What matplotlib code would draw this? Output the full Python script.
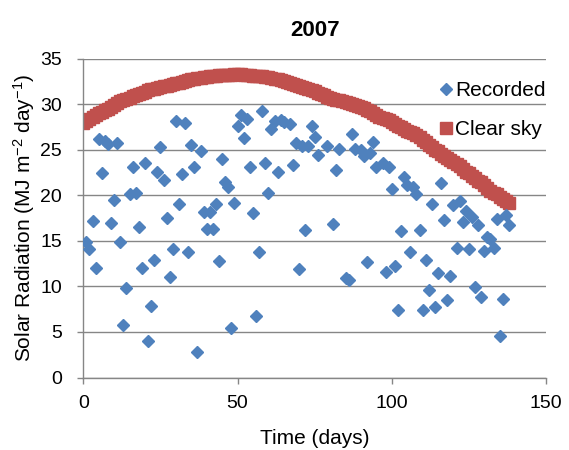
import matplotlib
matplotlib.use('Agg')
import matplotlib.pyplot as plt

plt.rcParams['font.family'] = ['Liberation Sans', 'DejaVu Sans']
plt.rcParams['mathtext.fontset'] = 'custom'
plt.rcParams['mathtext.rm'] = 'Liberation Sans'
plt.rcParams['mathtext.it'] = 'Liberation Sans'

# Recorded daily radiation (day, MJ m-2 day-1)
rec_days = [1, 2, 3, 4, 5, 6, 7, 8, 9, 10, 11, 12, 13, 14, 15, 16, 17, 18, 19, 20,
            21, 22, 23, 24, 25, 26, 27, 28, 29, 30, 31, 32, 33, 34, 35, 36, 37, 38, 39, 40,
            41, 42, 43, 44, 45, 46, 47, 48, 49, 50, 51, 52, 53, 54, 55, 56, 57, 58, 59, 60,
            61, 62, 63, 64, 65, 67, 68, 69, 70, 71, 72, 73, 74, 75, 76, 79, 81, 82, 83, 85,
            86, 87, 88, 90, 91, 92, 93, 94, 95, 97, 98, 99, 100, 101, 102, 103, 104, 105, 106, 107,
            108, 109, 110, 111, 112, 113, 114, 115, 116, 117, 118, 119, 120, 121, 122, 123, 124, 125, 126, 127,
            128, 129, 130, 131, 132, 133, 134, 135, 136, 137, 138]
rec_vals = [14.85, 14.05, 17.15, 12.05, 26.15, 22.45, 25.95, 25.65, 16.9, 19.45,
            25.75, 14.85, 5.75, 9.85, 20.15, 23.05, 20.25, 16.55, 12.05, 23.55,
            4.05, 7.85, 12.95, 22.55, 25.25, 21.65, 17.55, 11.05, 14.05, 28.15,
            19.05, 22.35, 27.95, 13.75, 25.55, 23.15, 2.75, 24.85, 18.15, 16.35,
            18.15, 16.35, 19.05, 12.75, 23.95, 21.45, 20.95, 5.45, 19.1, 27.65,
            28.85, 26.25, 28.35, 23.05, 18.05, 6.75, 13.75, 29.25, 23.55, 20.25,
            27.25, 28.15, 22.55, 28.25, 28.05, 27.85, 23.35, 25.75, 11.95, 25.35,
            16.15, 25.45, 27.55, 26.35, 24.45, 25.35, 16.85, 22.75, 25.05, 10.95,
            10.75, 26.75, 25.05, 24.95, 24.25, 12.65, 24.65, 25.85, 23.15, 23.55,
            11.55, 23.15, 20.65, 12.25, 7.45, 16.05, 21.95, 21.15, 13.75, 20.95,
            20.15, 16.15, 7.45, 12.85, 9.55, 19.05, 7.75, 11.45, 21.35, 17.3,
            8.55, 11.15, 18.95, 14.25, 19.4, 17.05, 18.3, 14.05, 17.65, 9.95,
            16.75, 8.85, 13.85, 15.45, 15.15, 14.25, 17.35, 4.55, 8.65, 17.85, 16.75]

# Clear sky radiation, one value per day from day 0
clear_vals = [27.9, 28.1, 28.4, 28.6, 28.8, 29.0, 29.1, 29.3, 29.5, 29.7,
              29.9, 30.1, 30.3, 30.4, 30.6, 30.7, 30.9, 31.0, 31.1, 31.2,
              31.3, 31.5, 31.6, 31.7, 31.8, 31.9, 32.0, 32.0, 32.1, 32.2,
              32.3, 32.3, 32.4, 32.5, 32.6, 32.7, 32.8, 32.9, 32.9, 33.0,
              33.0, 33.1, 33.1, 33.1, 33.2, 33.2, 33.2, 33.2, 33.2, 33.3,
              33.3, 33.3, 33.2, 33.2, 33.2, 33.1, 33.1, 33.1, 33.1, 33.0,
              33.0, 32.9, 32.8, 32.7, 32.6, 32.5, 32.4, 32.3, 32.2, 32.1,
              32.0, 31.9, 31.8, 31.6, 31.5, 31.4, 31.2, 31.1, 31.0, 30.8,
              30.7, 30.6, 30.5, 30.4, 30.3, 30.2, 30.1, 30.0, 29.9, 29.8,
              29.7, 29.6, 29.4, 29.2, 29.0, 28.8, 28.6, 28.5, 28.4, 28.2,
              28.0, 27.8, 27.6, 27.5, 27.3, 27.1, 26.9, 26.8, 26.6, 26.4,
              26.1, 25.8, 25.5, 25.3, 25.0, 24.8, 24.5, 24.3, 24.1, 23.9,
              23.6, 23.4, 23.2, 22.9, 22.6, 22.4, 22.1, 21.9, 21.6, 21.4,
              21.1, 20.8, 20.5, 20.3, 20.1, 19.8, 19.6, 19.4, 19.2]
clear_days = list(range(len(clear_vals)))

fig = plt.figure(figsize=(5.69, 4.5), dpi=100)
ax = fig.add_axes([0.1464, 0.161, 0.8132, 0.709])

grey = '#868686'
ax.plot(rec_days, rec_vals, linestyle='none', marker='D', ms=6.4,
        color='#4F81BD', label='Recorded', zorder=3)
ax.plot(clear_days, clear_vals, linestyle='none', marker='s', ms=9,
        color='#C0504D', label='Clear sky', zorder=2)

ax.set_xlim(0, 150)
ax.set_ylim(0, 35)
ax.set_xticks([0, 50, 100, 150])
ax.set_yticks(range(0, 36, 5))
ax.grid(axis='y', color=grey, linewidth=1)
ax.set_axisbelow(True)
for side in ['top', 'right']:
    ax.spines[side].set_visible(False)
for side in ['left', 'bottom']:
    ax.spines[side].set_color(grey)
    ax.spines[side].set_linewidth(1)
ax.tick_params(axis='both', colors=grey, labelcolor='black', labelsize=14,
               length=4.5, width=1)
ax.tick_params(axis='y', pad=11)
ax.tick_params(axis='x', pad=8)

ax.set_title('2007', fontsize=16, fontweight='bold', pad=16)
ax.set_xlabel('Time (days)', fontsize=15)
ax.set_ylabel('Solar Radiation (MJ m$^{-2}$ day$^{-1}$)', fontsize=15)
ax.xaxis.set_label_coords(0.5, -0.162)
ax.yaxis.set_label_coords(-0.101, 0.5)

fig.legend(loc='upper left', bbox_to_anchor=(0.771, 0.82), frameon=False,
           fontsize=15, labelspacing=0.95, handlelength=0.7, handletextpad=0.1,
           borderpad=0, borderaxespad=0)

fig.savefig('out.png', dpi=100)
